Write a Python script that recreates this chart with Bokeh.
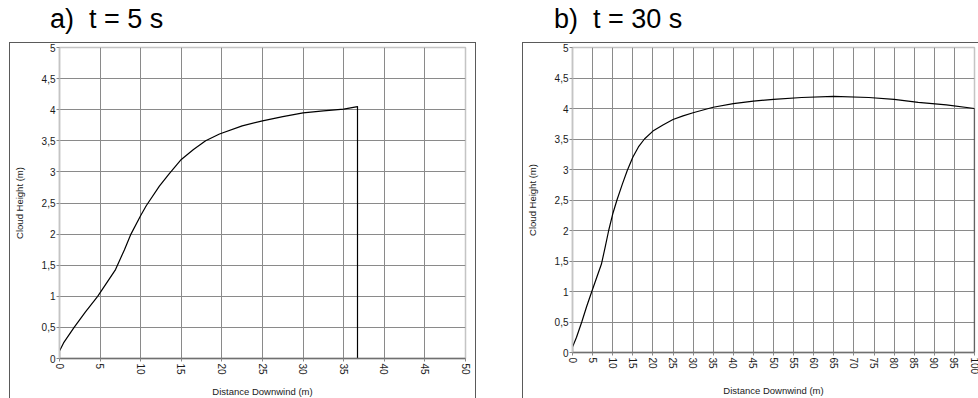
from bokeh.plotting import figure
from bokeh.layouts import row, column
from bokeh.models import Div, FixedTicker, CustomJSTickFormatter
from bokeh.embed import file_html
from bokeh.resources import INLINE

FONT = "Liberation Sans"

# ---- data ----
title_a = "a)  t = 5 s"
title_b = "b)  t = 30 s"
x_label = "Distance Downwind (m)"
y_label = "Cloud Height (m)"

y_ticks = [0, 0.5, 1, 1.5, 2, 2.5, 3, 3.5, 4, 4.5, 5]
y_tick_labels = ["0", "0,5", "1", "1,5", "2", "2,5", "3", "3,5", "4", "4,5", "5"]
x_ticks_a = [0, 5, 10, 15, 20, 25, 30, 35, 40, 45, 50]
x_ticks_b = [0, 5, 10, 15, 20, 25, 30, 35, 40, 45, 50, 55, 60, 65, 70, 75, 80, 85, 90, 95, 100]

# t = 5 s cloud profile (closed at the front edge)
x_a = [0, 0.5, 1.8, 3.2, 4.7, 6.9, 8, 8.8, 10, 10.7, 12.3, 13.5, 15, 16.5, 18,
       19.7, 22.5, 25, 27.5, 30, 32.5, 35, 36.7]
y_a = [0.12, 0.25, 0.5, 0.75, 1.0, 1.43, 1.75, 2.0, 2.3, 2.46, 2.77, 2.97, 3.2, 3.36, 3.5,
       3.61, 3.74, 3.82, 3.89, 3.95, 3.98, 4.01, 4.05]

# t = 30 s cloud profile
x_b = [0, 1, 2.3, 3.5, 4.8, 7.2, 8.1, 9.0, 10, 11.06, 12.4, 13.6, 15, 16.4, 17.9, 20,
       22.5, 25, 27.5, 30, 32.7, 35, 40, 45, 50, 57, 65, 73.7, 80, 86, 93, 100]
y_b = [0.09, 0.25, 0.5, 0.75, 1.0, 1.45, 1.72, 2.0, 2.27, 2.5, 2.76, 2.98, 3.2, 3.37, 3.5, 3.63,
       3.73, 3.82, 3.88, 3.93, 3.98, 4.02, 4.08, 4.12, 4.15, 4.18, 4.2, 4.18, 4.15, 4.1, 4.06, 4.0]

BOX = "1px solid #5a5a5a"


def make_fig(xs, ys, xmax, xticks, width, height, mbl, mbr, mbb, styles, margin):
    p = figure(width=width, height=height, x_range=(0, xmax), y_range=(0, 5),
               output_backend="svg", toolbar_location=None,
               min_border_left=mbl, min_border_right=mbr,
               min_border_top=4, min_border_bottom=mbb,
               background_fill_color="white", border_fill_color="white",
               styles=styles, margin=margin)
    p.outline_line_color = "#c4c4c4"
    p.outline_line_width = 1.5

    p.xaxis.ticker = FixedTicker(ticks=xticks)
    p.yaxis.ticker = FixedTicker(ticks=y_ticks)
    p.xgrid.ticker = FixedTicker(ticks=xticks)
    p.ygrid.ticker = FixedTicker(ticks=y_ticks)
    p.yaxis.formatter = CustomJSTickFormatter(
        args=dict(yt=y_ticks, yl=y_tick_labels),
        code="const i = yt.findIndex(t => Math.abs(t - tick) < 1e-9);"
             "return i >= 0 ? yl[i] : String(tick);")
    p.grid.grid_line_color = "#8a8a8a"
    p.grid.grid_line_width = 1

    for ax in (p.xaxis, p.yaxis):
        ax.major_label_text_font = FONT
        ax.major_label_text_font_size = "10px"
        ax.major_label_text_color = "#1a1a1a"
        ax.axis_label_text_font = FONT
        ax.axis_label_text_font_size = "9.5px"
        ax.axis_label_text_font_style = "normal"
        ax.axis_label_text_color = "#1a1a1a"
        ax.major_tick_in = 0
        ax.major_tick_out = 3
        ax.major_tick_line_color = "#888888"
        ax.minor_tick_line_color = None
    p.xaxis.major_label_standoff = 2
    p.yaxis.major_label_standoff = 1
    p.xaxis.axis_line_color = "#707070"
    p.xaxis.axis_line_width = 1.5
    p.yaxis.axis_line_color = "#c4c4c4"
    p.yaxis.axis_line_width = 1.5
    p.xaxis.major_label_orientation = "vertical"
    p.xaxis.axis_label = x_label
    p.yaxis.axis_label = y_label
    p.xaxis.axis_label_standoff = 8
    p.yaxis.axis_label_standoff = 14

    # closed outline of the cloud: profile, front edge down to ground, ground back to origin
    cx = list(xs) + [xs[-1], xs[0], xs[0]]
    cy = list(ys) + [0, 0, ys[0]]
    p.line(cx, cy, line_color="black", line_width=1.2, line_join="round")
    return p


def make_title(text, width, pad):
    html = ('<div style="font-family:\'Liberation Sans\',Arial,sans-serif;font-size:27px;'
            'white-space:pre;line-height:normal;color:#000;padding-left:%dpx;'
            'padding-top:4px;margin:0;">%s</div>' % (pad, text))
    return Div(text=html, width=width, height=42, margin=(0, 0, 0, 0))


fig_a = make_fig(x_a, y_a, 50, x_ticks_a, 467, 356, 47, 12, 41,
                 {"border-top": BOX, "border-left": BOX, "border-right": BOX}, (0, 0, 0, 9))
fig_b = make_fig(x_b, y_b, 100, x_ticks_b, 456, 356, 45, 5, 46,
                 {"border-top": BOX, "border-left": BOX}, (0, 0, 0, 0))

col_a = column(make_title(title_a, 476, 50), fig_a, spacing=0)
col_b = column(make_title(title_b, 456, 32), fig_b, spacing=0)
layout = row(col_a, col_b, spacing=46)

open("out.html", "w").write(file_html(layout, INLINE))
